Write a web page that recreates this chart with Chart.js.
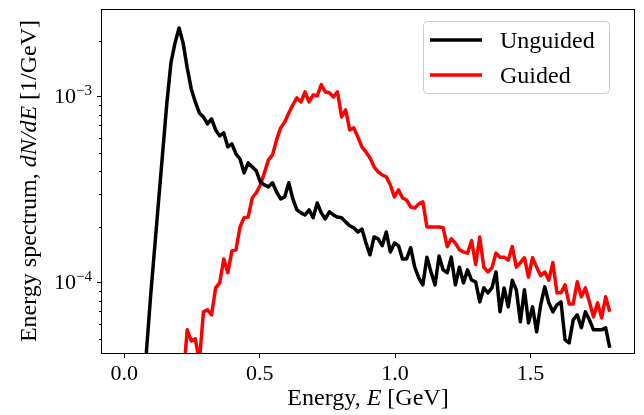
<!DOCTYPE html>
<html>
<head>
<meta charset="utf-8">
<script src="https://cdn.jsdelivr.net/npm/chart.js@4.4.0/dist/chart.umd.min.js"></script>
<style>
  html, body { margin: 0; padding: 0; background: #fff; }
  #chart { display: block; }
</style>
</head>
<body>
<canvas id="chart" width="644" height="415"></canvas>
<script>
// bin centres in GeV
const energies = [
  0.0675, 0.0825, 0.0975, 0.1125, 0.1275, 0.1425,
  0.1575, 0.1725, 0.1875, 0.2025, 0.2175, 0.2325, 0.2475, 0.2625, 0.2775, 0.2925,
  0.3075, 0.3225, 0.3375, 0.3525, 0.3675, 0.3825, 0.3975, 0.4125, 0.4275, 0.4425,
  0.4575, 0.4725, 0.4875, 0.5025, 0.5175, 0.5325, 0.5475, 0.5625, 0.5775, 0.5925,
  0.6075, 0.6225, 0.6375, 0.6525, 0.6675, 0.6825, 0.6975, 0.7125, 0.7275, 0.7425,
  0.7575, 0.7725, 0.7875, 0.8025, 0.8175, 0.8325, 0.8475, 0.8625, 0.8775, 0.8925,
  0.9075, 0.9225, 0.9375, 0.9525, 0.9675, 0.9825, 0.9975, 1.0125, 1.0275, 1.0425,
  1.0575, 1.0725, 1.0875, 1.1025, 1.1175, 1.1325, 1.1475, 1.1625, 1.1775, 1.1925,
  1.2075, 1.2225, 1.2375, 1.2525, 1.2675, 1.2825, 1.2975, 1.3125, 1.3275, 1.3425,
  1.3575, 1.3725, 1.3875, 1.4025, 1.4175, 1.4325, 1.4475, 1.4625, 1.4775, 1.4925,
  1.5075, 1.5225, 1.5375, 1.5525, 1.5675, 1.5825, 1.5975, 1.6125, 1.6275, 1.6425,
  1.6575, 1.6725, 1.6875, 1.7025, 1.7175, 1.7325, 1.7475, 1.7625, 1.7775, 1.7925
];

const unguided = [
  1.5e-5, 4.35e-5, 8.48e-5, 1.54e-4, 2.82e-4, 5.11e-4,
  9.25e-4, 1.52e-3, 1.94e-3, 2.34e-3, 1.94e-3, 1.43e-3, 1.10e-3, 9.36e-4, 8.17e-4, 7.78e-4,
  7.13e-4, 7.59e-4, 6.62e-4, 6.15e-4, 6.38e-4, 5.37e-4, 5.57e-4, 4.92e-4, 4.62e-4, 3.89e-4,
  4.40e-4, 4.19e-4, 3.99e-4, 3.48e-4, 3.35e-4, 3.27e-4, 3.44e-4, 3.07e-4, 2.82e-4, 2.89e-4,
  3.44e-4, 2.82e-4, 2.46e-4, 2.37e-4, 2.31e-4, 2.46e-4, 2.23e-4, 2.68e-4, 2.37e-4, 2.20e-4,
  2.40e-4, 2.31e-4, 2.25e-4, 2.23e-4, 2.12e-4, 2.02e-4, 1.97e-4, 1.87e-4, 1.94e-4, 1.63e-4,
  1.41e-4, 1.76e-4, 1.72e-4, 1.58e-4, 1.87e-4, 1.46e-4, 1.63e-4, 1.58e-4, 1.34e-4, 1.34e-4,
  1.54e-4, 1.21e-4, 1.06e-4, 9.72e-5, 1.37e-4, 1.14e-4, 9.72e-5, 1.39e-4, 1.17e-4, 1.13e-4,
  1.37e-4, 9.72e-5, 1.21e-4, 9.96e-5, 1.17e-4, 1.03e-4, 1.01e-4, 7.87e-5, 9.36e-5, 8.81e-5,
  9.36e-5, 1.14e-4, 6.96e-5, 9.36e-5, 7.40e-5, 1.03e-4, 9.14e-5, 6.15e-5, 9.14e-5, 6.07e-5,
  7.40e-5, 5.43e-5, 7.59e-5, 9.48e-5, 7.78e-5, 6.96e-5, 7.59e-5, 7.87e-5, 4.92e-5, 4.74e-5,
  6.30e-5, 6.71e-5, 5.71e-5, 6.96e-5, 6.30e-5, 5.57e-5, 5.57e-5, 5.57e-5, 5.71e-5, 4.46e-5
];

const guided = [
  null, null, null, null, null, null,
  null, null, null, null, 3.0e-5, 5.57e-5, 4.86e-5, 4.98e-5, 3.75e-5, 6.96e-5,
  7.13e-5, 6.71e-5, 9.36e-5, 9.96e-5, 1.34e-4, 1.13e-4, 1.48e-4, 1.50e-4, 1.99e-4, 2.23e-4,
  2.25e-4, 2.85e-4, 3.04e-4, 3.35e-4, 3.89e-4, 4.57e-4, 4.86e-4, 5.85e-4, 6.79e-4, 7.31e-4,
  8.17e-4, 9.03e-4, 9.84e-4, 9.36e-4, 1.06e-3, 9.36e-4, 1.02e-3, 1.01e-3, 1.16e-3, 1.06e-3,
  1.05e-3, 9.96e-4, 1.06e-3, 7.78e-4, 8.48e-4, 6.62e-4, 6.79e-4, 6.07e-4, 5.37e-4, 5.04e-4,
  4.68e-4, 4.19e-4, 3.94e-4, 3.79e-4, 3.70e-4, 3.35e-4, 2.89e-4, 3.15e-4, 2.85e-4, 2.78e-4,
  2.55e-4, 2.52e-4, 2.65e-4, 2.72e-4, 1.99e-4, 1.99e-4, 1.99e-4, 1.99e-4, 1.97e-4, 1.56e-4,
  1.72e-4, 1.63e-4, 1.50e-4, 1.46e-4, 1.44e-4, 1.68e-4, 1.25e-4, 1.76e-4, 1.21e-4, 1.14e-4,
  1.20e-4, 1.44e-4, 1.37e-4, 1.37e-4, 1.32e-4, 1.56e-4, 1.21e-4, 1.28e-4, 1.36e-4, 1.07e-4,
  1.36e-4, 1.21e-4, 1.09e-4, 1.14e-4, 1.03e-4, 1.28e-4, 8.81e-5, 8.81e-5, 9.72e-5, 7.68e-5,
  7.68e-5, 1.01e-4, 8.38e-5, 9.36e-5, 7.87e-5, 6.54e-5, 7.78e-5, 6.46e-5, 8.38e-5, 6.96e-5
];

const seriesNames = ["Unguided", "Guided"];
const seriesColors = ["#000000", "#ff0000"];
const xTicks = [0, 0.5, 1.0, 1.5];
const yMajor = [1e-4, 1e-3];
const yMinor = [5e-5, 6e-5, 7e-5, 8e-5, 9e-5, 2e-4, 3e-4, 4e-4, 5e-4, 6e-4, 7e-4, 8e-4, 9e-4, 2e-3];

const serif = "'Liberation Serif', 'DejaVu Serif', serif";

function points(vals) {
  return energies.map((e, i) => ({ x: e, y: vals[i] }));
}

// draws [text, italic] pieces one after another, centred on (0,0)
function richText(ctx, parts, size) {
  let total = 0;
  const widths = parts.map(([t, it]) => {
    ctx.font = (it ? "italic " : "") + size + "px " + serif;
    const w = ctx.measureText(t).width;
    total += w;
    return w;
  });
  let x = -total / 2;
  parts.forEach(([t, it], i) => {
    ctx.font = (it ? "italic " : "") + size + "px " + serif;
    ctx.fillText(t, x, 0);
    x += widths[i];
  });
}

const decor = {
  id: "decor",
  afterDatasetsDraw(chart) {
    const { ctx, chartArea: a, scales: { y } } = chart;
    ctx.save();
    ctx.strokeStyle = "#000";
    ctx.lineWidth = 1;
    ctx.strokeRect(a.left - 0.5, a.top + 0.5, a.right - a.left + 1, a.bottom - a.top);

    // minor log ticks
    ctx.beginPath();
    yMinor.forEach(v => {
      const py = Math.round(y.getPixelForValue(v)) + 0.5;
      ctx.moveTo(a.left, py);
      ctx.lineTo(a.left - 3, py);
    });
    ctx.stroke();

    // y tick labels 10^n
    ctx.fillStyle = "#000";
    ctx.textBaseline = "middle";
    ctx.textAlign = "left";
    yMajor.forEach(v => {
      const py = y.getPixelForValue(v);
      const sup = "\u2212" + Math.abs(Math.round(Math.log10(v)));
      ctx.font = "22px " + serif;
      const wb = ctx.measureText("10").width;
      ctx.font = "15px " + serif;
      const ws = ctx.measureText(sup).width;
      const x0 = a.left - 10 - ws - wb;
      ctx.font = "22px " + serif;
      ctx.fillText("10", x0, py + 1);
      ctx.font = "15px " + serif;
      ctx.fillText(sup, x0 + wb, py - 6);
    });

    // axis titles
    ctx.textBaseline = "middle";
    ctx.save();
    ctx.translate((a.left + a.right) / 2, 399);
    richText(ctx, [["Energy, ", false], ["E", true], [" [GeV]", false]], 24);
    ctx.restore();
    ctx.save();
    ctx.translate(30, (a.top + a.bottom) / 2);
    ctx.rotate(-Math.PI / 2);
    richText(ctx, [["Energy spectrum, ", false], ["dN/dE", true], [" [1/GeV]", false]], 24);
    ctx.restore();

    // legend
    ctx.beginPath();
    ctx.roundRect(423.5, 21.5, 186, 72, 4);
    ctx.fillStyle = "rgba(255,255,255,0.8)";
    ctx.fill();
    ctx.strokeStyle = "#cccccc";
    ctx.stroke();
    ctx.font = "24px " + serif;
    seriesNames.forEach((name, i) => {
      const ly = 40 + i * 35;
      ctx.beginPath();
      ctx.strokeStyle = seriesColors[i];
      ctx.lineWidth = 3.5;
      ctx.moveTo(430, ly);
      ctx.lineTo(482, ly);
      ctx.stroke();
      ctx.fillStyle = "#000";
      ctx.fillText(name, 500, ly + 2);
    });
    ctx.restore();
  }
};

const ctx = document.getElementById("chart").getContext("2d");
new Chart(ctx, {
  type: "line",
  data: {
    datasets: [unguided, guided].map((vals, i) => ({
      label: seriesNames[i],
      data: points(vals),
      borderColor: seriesColors[i],
      borderWidth: 3.5,
      borderJoinStyle: "round",
      pointRadius: 0,
      tension: 0,
      spanGaps: false,
      clip: 0
    }))
  },
  options: {
    responsive: false,
    animation: false,
    devicePixelRatio: 1,
    layout: { padding: { left: 0, right: 10, top: 9, bottom: 0 } },
    plugins: { legend: { display: false }, tooltip: { enabled: false } },
    scales: {
      x: {
        type: "linear",
        min: -0.082,
        max: 1.882,
        afterBuildTicks: s => { s.ticks = xTicks.map(v => ({ value: v })); },
        afterFit: s => { s.height = 62; },
        border: { display: false },
        grid: { drawOnChartArea: false, tickLength: 5, tickColor: "#000", tickWidth: 1 },
        ticks: {
          callback: v => v.toFixed(1),
          color: "#000",
          font: { family: serif, size: 22 },
          padding: 3,
          maxRotation: 0,
          autoSkip: false
        }
      },
      y: {
        type: "logarithmic",
        min: 4.18e-5,
        max: 2.96e-3,
        afterBuildTicks: s => { s.ticks = yMajor.map(v => ({ value: v })); },
        afterFit: s => { s.width = 102; },
        border: { display: false },
        grid: { drawOnChartArea: false, tickLength: 5, tickColor: "#000", tickWidth: 1 },
        ticks: { callback: () => "", padding: 0 }
      }
    }
  },
  plugins: [decor]
});
</script>
</body>
</html>
